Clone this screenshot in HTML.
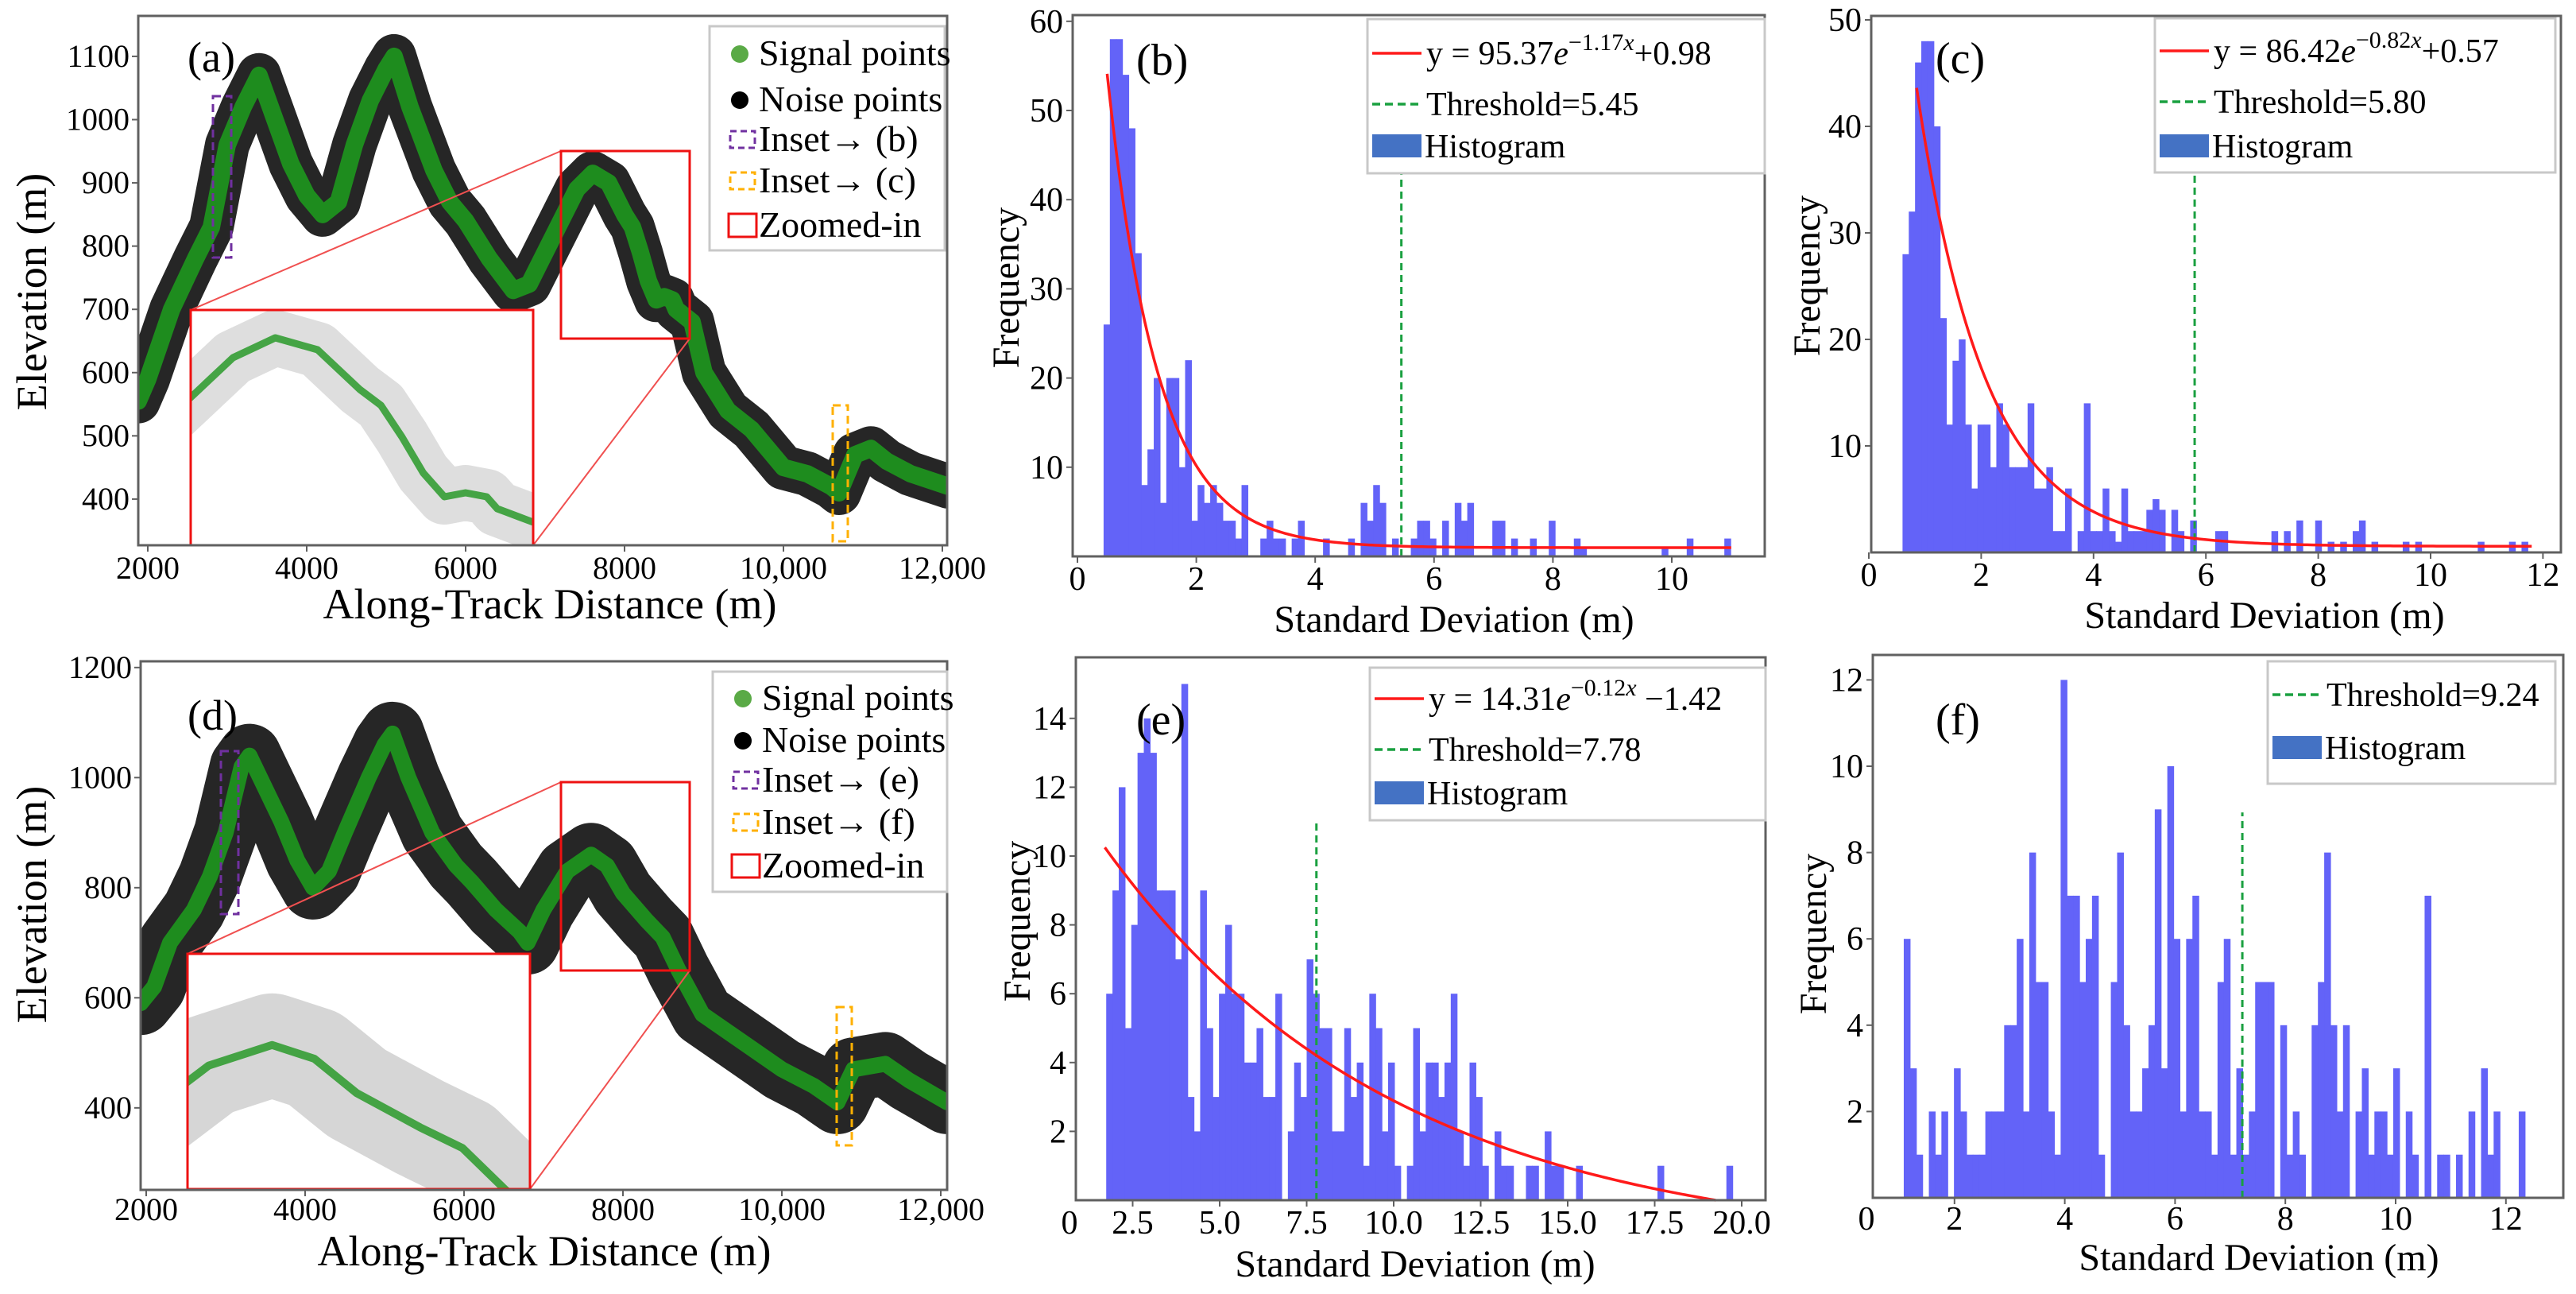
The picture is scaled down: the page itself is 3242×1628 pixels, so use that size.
<!DOCTYPE html>
<html><head><meta charset="utf-8"><style>
html,body{margin:0;padding:0;background:#fff;}
svg{display:block;font-family:"Liberation Serif",serif;}
</style></head><body>
<svg id="fig" xmlns="http://www.w3.org/2000/svg" width="3242" height="1628" viewBox="0 0 3242 1628">
<rect x="0" y="0" width="3242" height="1628" fill="#fff"/>
<defs>
<clipPath id="clipA"><rect x="174" y="20" width="1018" height="666"/></clipPath>
<clipPath id="clipAi"><rect x="240" y="390" width="431" height="296"/></clipPath>
<clipPath id="clipD"><rect x="177" y="832" width="1015" height="665"/></clipPath>
<clipPath id="clipDi"><rect x="236" y="1200" width="431" height="296"/></clipPath>
</defs>
<g id="layer"></g>
</svg>
<script>
// ---------- DATA ----------
const aDist=[1880,2000,2300,2600,2800,3000,3200,3400,3600,3800,4000,4200,4400,4600,4800,5000,5100,5300,5600,5800,6000,6300,6600,6800,7000,7200,7400,7600,7800,8000,8100,8200,8300,8400,8500,8600,8650,8750,8850,9000,9300,9600,9800,10000,10300,10600,10700,10900,11100,11300,11600,12080];
const aElev=[555,590,700,780,830,960,1020,1070,1000,930,880,850,870,960,1030,1080,1100,1020,920,870,840,780,730,740,790,840,890,915,900,850,830,790,745,715,720,715,700,690,680,600,540,510,480,450,440,420,410,470,480,460,440,420];
const dDist=[1930,2100,2300,2600,2800,3000,3200,3300,3500,3700,3900,4100,4300,4500,4800,5000,5100,5300,5600,5900,6100,6400,6700,6800,7000,7300,7600,7800,8000,8300,8500,8700,9000,9300,9600,10000,10400,10700,10900,11300,11600,12080];
const dElev=[590,620,700,760,820,900,1020,1040,980,920,850,800,830,900,1000,1060,1080,1000,900,840,810,760,720,700,760,830,860,840,790,740,710,650,570,540,510,470,440,410,470,480,450,410];
const aYTicks=[400,500,600,700,800,900,1000,1100];
const dYTicks=[400,600,800,1000,1200];
const profXTicks=[2000,4000,6000,8000,10000,12000];
const profXLabels=["2000","4000","6000","8000","10,000","12,000"];

const bCounts=[26,58,58,54,48,34,8,12,20,6,20,20,10,22,4,8,6,8,6,4,4,2,8,0,0,2,4,2,2,0,2,4,0,0,0,2,0,0,0,2,0,6,4,8,6,0,2,0,0,2,4,4,2,0,4,0,6,4,6,0,0,0,4,4,0,2,0,0,2,0,0,4,0,0,0,2,1,0,0,0,0,0,0,0,0,0,0,0,0,1,0,0,0,2,0,0,0,0,0,2];
const bStart=0.44, bWidth=0.1055;
const cCounts=[28,32,46,48,48,40,22,12,18,20,12,6,12,12,8,14,12,8,8,8,14,6,6,8,2,2,6,0,2,14,2,2,6,2,1,6,2,2,2,4,5,4,0,4,2,0,3,0,0,0,2,2,0,0,0,0,0,0,0,2,0,2,0,3,0,0,3,0,1,0,1,0,2,3,0,1,0,0,0,0,1,0,1,0,0,0,0,0,0,0,0,0,1,0,0,0,0,1,0,1];
const cStart=0.60, cWidth=0.1113;
const eCounts=[6,9,12,5,8,13,14,13,9,9,9,7,15,3,2,9,5,3,6,8,6,6,4,4,5,3,3,6,0,2,4,3,7,6,5,5,2,2,5,3,4,1,6,5,2,4,1,0,1,5,2,4,4,3,4,6,2,1,4,3,1,0,2,1,1,0,0,1,1,0,2,1,1,0,0,1,0,0,0,0,0,0,0,0,0,0,0,0,1,0,0,0,0,0,0,0,0,0,0,1];
const eStart=1.74, eWidth=0.18;
const fCounts=[6,3,1,0,2,1,2,0,3,2,1,1,1,2,2,2,4,4,6,2,8,5,5,2,1,12,7,7,5,6,7,1,0,5,8,4,2,2,3,4,9,3,10,6,2,6,7,2,2,1,5,6,1,3,1,2,5,5,5,0,4,1,2,1,0,4,5,8,4,2,4,0,2,3,1,2,2,1,3,0,2,1,0,7,0,1,1,0,1,0,2,0,3,1,2,0,0,0,2];
const fStart=1.08, fWidth=0.1138;
const bYTicks=[10,20,30,40,50,60], bXTicks=[0,2,4,6,8,10];
const cYTicks=[10,20,30,40,50], cXTicks=[0,2,4,6,8,10,12];
const eYTicks=[2,4,6,8,10,12,14], eXTicks=[2.5,5.0,7.5,10.0,12.5,15.0,17.5,20.0];
const fYTicks=[2,4,6,8,10,12], fXTicks=[2,4,6,8,10,12];
const bFit=[95.37,-1.17,0.98], cFit=[86.42,-0.82,0.57], eFit=[14.31,-0.12,-1.42];
const bThresh=5.45, cThresh=5.80, eThresh=7.78, fThresh=7.22;

// ---------- HELPERS ----------
const NS='http://www.w3.org/2000/svg';
const layer=document.getElementById('layer');
function mk(tag,attrs,parent){const e=document.createElementNS(NS,tag);for(const k in attrs)e.setAttribute(k,attrs[k]);(parent||layer).appendChild(e);return e;}
function txt(s,attrs,parent){const t=mk('text',attrs,parent);t.textContent=s;return t;}

// ---------- PROFILE PANELS ----------
function profilePanel(P){
  const g=mk('g',{});
  
  
  const sx=d=>P.L+(d-P.x0)*P.kx, sy=v=>P.B-(v-P.y0)*P.ky;
  const pts=P.dist.map((d,i)=>sx(d)+','+sy(P.elev[i])).join(' ');
  const cg=mk('g',{'clip-path':'url(#'+P.clip+')'},g);
  const band=mk('polyline',{points:pts,fill:'none',stroke:'#262626','stroke-width':P.band,'stroke-linejoin':'round','stroke-linecap':'round'},cg);
  
  
  const sig=mk('polyline',{points:pts,fill:'none',stroke:'#1e8c1e','stroke-width':P.sig,'stroke-linejoin':'round','stroke-linecap':'round'},cg);
  
  
  const zb=P.zoom;
  const l1=mk('line',{x1:P.inset.x,y1:P.inset.y,x2:zb.x,y2:zb.y,stroke:'#f05050','stroke-width':2},g);
  
  
  const l2=mk('line',{x1:P.inset.x+P.inset.w,y1:P.inset.y+P.inset.h,x2:zb.x+zb.w,y2:zb.y+zb.h,stroke:'#f05050','stroke-width':2},g);
  
  
  const ib=mk('rect',{x:P.inset.x,y:P.inset.y,width:P.inset.w,height:P.inset.h,fill:'#fff'},g);
  
  
  const ix=d=>P.inset.x+(d-zb.d0)/(zb.d1-zb.d0)*P.inset.w;
  const iy=v=>P.inset.y+(zb.e1-v)/(zb.e1-zb.e0)*P.inset.h;
  const ipts=P.dist.map((d,i)=>ix(d)+','+iy(P.elev[i])).join(' ');
  const ig=mk('g',{'clip-path':'url(#'+P.iclip+')'},g);
  const inoise=mk('polyline',{points:ipts,fill:'none',stroke:'#000','stroke-opacity':P.iop,'stroke-width':P.iband,'stroke-linejoin':'round','stroke-linecap':'round'},ig);
  
  
  const isig=mk('polyline',{points:ipts,fill:'none',stroke:'#2a9a2a','stroke-width':P.isig,'stroke-linejoin':'round','stroke-opacity':0.85},ig);
  
  
  const ir=mk('rect',{x:P.inset.x,y:P.inset.y,width:P.inset.w,height:P.inset.h,fill:'none',stroke:'#ee1111','stroke-width':3},g);
  
  
  const zr=mk('rect',{x:zb.x,y:zb.y,width:zb.w,height:zb.h,fill:'none',stroke:'#ee1111','stroke-width':3},g);
  
  
  const pb=mk('rect',{x:P.purple.x,y:P.purple.y,width:P.purple.w,height:P.purple.h,fill:'none',stroke:'#7030a0','stroke-width':3,'stroke-dasharray':'10 6'},g);
  
  
  const ob=mk('rect',{x:P.orange.x,y:P.orange.y,width:P.orange.w,height:P.orange.h,fill:'none',stroke:'#ffb000','stroke-width':3,'stroke-dasharray':'10 6'},g);
  
  
  const fr=mk('rect',{x:P.L,y:P.T,width:P.R-P.L,height:P.B-P.T,fill:'none',stroke:'#606060','stroke-width':3},g);
  
  
  P.yTicks.forEach(v=>{
    const tk=mk('line',{x1:P.L-8,x2:P.L,y1:sy(v),y2:sy(v),stroke:'#606060','stroke-width':2},g);
    
    
    const tl=txt(String(v),{x:P.L-11,y:sy(v)+13,'text-anchor':'end','font-size':40},g);
    
    
  });
  P.xTicks.forEach((v,i)=>{
    const tk=mk('line',{x1:sx(v),x2:sx(v),y1:P.B,y2:P.B+8,stroke:'#606060','stroke-width':2},g);
    
    
    const tl=txt(P.xLabels[i],{x:sx(v),y:P.xLabY,'text-anchor':'middle','font-size':40},g);
    
    
  });
  const yt=txt('Elevation (m)',{x:0,y:0,'text-anchor':'middle','font-size':54,transform:'translate('+(P.yTitleX)+','+P.yTitleY+') rotate(-90)'},g);
  
  
  const xt=txt('Along-Track Distance (m)',{x:P.xTitleX,y:P.xTitleY,'text-anchor':'middle','font-size':54},g);
  
  
  const pl=txt(P.label,{x:236,y:P.labelY,'font-size':54},g);
  
  
  const LG=P.leg;
  const lb=mk('rect',{x:LG.x,y:LG.y,width:LG.w,height:LG.h,fill:'#fff',stroke:'#c8c8c8','stroke-width':3},g);
  
  
  const ent=[['Signal points','dot','#5aaa46'],['Noise points','dot','#000'],['Inset\u2192 ('+P.ins[0]+')','dash','#7030a0'],['Inset\u2192 ('+P.ins[1]+')','dash','#ffb000'],['Zoomed-in','box','#ee1111']];
  ent.forEach((e,i)=>{
    const cy=LG.rows[i];
    let m;
    if(e[1]==='dot'){m=mk('circle',{cx:LG.x+38,cy:cy,r:11,fill:e[2]},g);}
    else if(e[1]==='dash'){m=mk('rect',{x:LG.x+26,y:cy-11,width:31,height:21,fill:'none',stroke:e[2],'stroke-width':3,'stroke-dasharray':'8 5'},g);}
    else {m=mk('rect',{x:LG.x+24,y:cy-15,width:35,height:29,fill:'none',stroke:e[2],'stroke-width':3},g);}
    
    
    const t=txt(e[0],{x:LG.x+62,y:cy+14,'font-size':46},g);
    
    
  });
}

profilePanel({name:'panel-a',dist:aDist,elev:aElev,L:174,T:20,R:1192,B:686,x0:1880,kx:0.1,y0:327,ky:0.7957,clip:'clipA',iclip:'clipAi',band:56,sig:22,iband:70,iop:0.13,isig:9,
  zoom:{x:706,y:190,w:162,h:236,d0:7200,d1:8820,e0:654,e1:950},inset:{x:240,y:390,w:431,h:296},
  purple:{x:268,y:121,w:23,h:203},orange:{x:1048,y:510,w:19,h:171},
  yTicks:aYTicks,xTicks:profXTicks,xLabels:profXLabels,xLabY:728,yTitleX:58,yTitleY:367,xTitleX:692,xTitleY:778,label:'(a)',labelY:90,ins:['b','c'],
  leg:{x:893,y:33,w:296,h:282,rows:[68,126,176,228,284]}});
profilePanel({name:'panel-d',dist:dDist,elev:dElev,L:177,T:832,R:1192,B:1497,x0:1930,kx:0.1,y0:251,ky:0.6925,clip:'clipD',iclip:'clipDi',band:80,sig:20,iband:130,iop:0.16,isig:10,
  zoom:{x:706,y:984,w:162,h:237,d0:7200,d1:8820,e0:650,e1:993},inset:{x:236,y:1200,w:431,h:296},
  purple:{x:278,y:945,w:22,h:205},orange:{x:1053,y:1267,w:19,h:174},
  yTicks:dYTicks,xTicks:profXTicks,xLabels:profXLabels,xLabY:1535,yTitleX:58,yTitleY:1138,xTitleX:685,xTitleY:1592,label:'(d)',labelY:918,ins:['e','f'],
  leg:{x:897,y:845,w:295,h:277,rows:[879,932,982,1035,1090]}});

// ---------- HISTOGRAM PANELS ----------
function histPanel(H){
  const g=mk('g',{});
  
  
  const sx=u=>H.X0+u*H.kx, sy=v=>H.B-v*H.ky;
  H.counts.forEach((c,i)=>{
    if(c<=0)return;
    const x0=sx(H.start+i*H.width), x1=sx(H.start+(i+1)*H.width);
    const r=mk('rect',{x:x0,y:sy(c),width:x1-x0+0.6,height:H.B-sy(c),fill:'#6363f8'},g);
    
    
  });
  const th=mk('line',{x1:sx(H.thresh),x2:sx(H.thresh),y1:H.B,y2:sy(H.threshTop),stroke:'#1aa040','stroke-width':3,'stroke-dasharray':'9 6'},g);
  
  
  if(H.fit){
    const pts=[];
    for(let k=0;k<=200;k++){const u=H.fitFrom+(H.fitTo-H.fitFrom)*k/200;const v=H.fit[0]*Math.exp(H.fit[1]*u)+H.fit[2];pts.push(sx(u)+','+sy(v));}
    const fl=mk('polyline',{points:pts.join(' '),fill:'none',stroke:'#ff1a1a','stroke-width':3.5},g);
    
    
  }
  const fr=mk('rect',{x:H.L,y:H.T,width:H.R-H.L,height:H.B-H.T,fill:'none',stroke:'#606060','stroke-width':3},g);
  
  
  H.yTicks.forEach(v=>{
    const tk=mk('line',{x1:H.L-8,x2:H.L,y1:sy(v),y2:sy(v),stroke:'#606060','stroke-width':2},g);
    
    
    const tl=txt(String(v),{x:H.L-12,y:sy(v)+14,'text-anchor':'end','font-size':42},g);
    
    
  });
  H.xTicks.forEach(v=>{
    const tk=mk('line',{x1:sx(v),x2:sx(v),y1:H.B,y2:H.B+8,stroke:'#606060','stroke-width':2},g);
    
    
    const tl=txt(H.dec?v.toFixed(1):String(v),{x:sx(v),y:H.xLabY,'text-anchor':'middle','font-size':42},g);
    
    
  });
  if(H.zeroLabel){
    const z=txt('0',{x:H.L-8,y:H.xLabY,'text-anchor':'middle','font-size':42},g);
    
    
  }
  const yt=txt('Frequency',{x:0,y:0,'text-anchor':'middle','font-size':48,transform:'translate('+H.yTitleX+','+H.yTitleY+') rotate(-90)'},g);
  
  
  const xt=txt('Standard Deviation (m)',{x:H.xTitleX,y:H.xTitleY,'text-anchor':'middle','font-size':48},g);
  
  
  const pl=txt(H.label,{x:H.labelX,y:H.labelY,'font-size':56},g);
  
  
  const LG=H.leg;
  const lb=mk('rect',{x:LG.x,y:LG.y,width:LG.w,height:LG.h,fill:'#fff',stroke:'#c8c8c8','stroke-width':3},g);
  
  
  let row=0;
  if(H.fit){
    const cy=LG.rows[row++];
    const ln=mk('line',{x1:LG.x+6,x2:LG.x+68,y1:cy,y2:cy,stroke:'#ff1a1a','stroke-width':3.5},g);
    
    
    const t=mk('text',{x:LG.x+74,y:cy+14,'font-size':42},g);
    
    
    const a=document.createElementNS(NS,'tspan');a.textContent='y = '+H.fit[0].toFixed(2);t.appendChild(a);
    const e=document.createElementNS(NS,'tspan');e.setAttribute('font-style','italic');e.textContent='e';t.appendChild(e);
    const s=document.createElementNS(NS,'tspan');s.setAttribute('font-size','30');s.setAttribute('dy','-18');s.textContent='\u2212'+Math.abs(H.fit[1]).toFixed(2);t.appendChild(s);
    const sxx=document.createElementNS(NS,'tspan');sxx.setAttribute('font-size','30');sxx.setAttribute('font-style','italic');sxx.textContent='x';t.appendChild(sxx);
    const c=document.createElementNS(NS,'tspan');c.setAttribute('dy','18');c.textContent=(H.fit[2]<0?' \u2212'+Math.abs(H.fit[2]).toFixed(2):'+'+H.fit[2].toFixed(2));t.appendChild(c);
  }
  {
    const cy=LG.rows[row++];
    const ln=mk('line',{x1:LG.x+6,x2:LG.x+68,y1:cy,y2:cy,stroke:'#1aa040','stroke-width':3.5,'stroke-dasharray':'10 6'},g);
    
    
    const t=txt('Threshold='+H.threshText,{x:LG.x+74,y:cy+14,'font-size':42},g);
    
    
  }
  {
    const cy=LG.rows[row++];
    const hr=mk('rect',{x:LG.x+6,y:cy-15,width:62,height:29,fill:'#4472c4'},g);
    
    
    const t=txt('Histogram',{x:LG.x+72,y:cy+14,'font-size':42},g);
    
    
  }
}

histPanel({name:'panel-b',counts:bCounts,start:bStart,width:bWidth,L:1350,T:19,R:2221,B:700,X0:1356,kx:74.8,ky:11.22,
  thresh:bThresh,threshTop:43,threshText:'5.45',fit:bFit,fitFrom:0.5,fitTo:11.0,yTicks:bYTicks,xTicks:bXTicks,xLabY:742,
  yTitleX:1282,yTitleY:362,xTitleX:1830,xTitleY:795,label:'(b)',labelX:1430,labelY:94,
  leg:{x:1721,y:24,w:500,h:194,rows:[67,131,184]}});
histPanel({name:'panel-c',counts:cCounts,start:cStart,width:cWidth,L:2355,T:20,R:3223,B:695,X0:2352,kx:70.7,ky:13.4,
  thresh:cThresh,threshTop:36,threshText:'5.80',fit:cFit,fitFrom:0.85,fitTo:11.8,yTicks:cYTicks,xTicks:cXTicks,xLabY:737,
  yTitleX:2290,yTitleY:347,xTitleX:2850,xTitleY:790,label:'(c)',labelX:2436,labelY:92,
  leg:{x:2712,y:23,w:504,h:194,rows:[64,128,184]}});
histPanel({name:'panel-e',counts:eCounts,start:eStart,width:eWidth,L:1354,T:827,R:2222,B:1510,X0:1316,kx:43.8,ky:43.3,
  thresh:eThresh,threshTop:11,threshText:'7.78',fit:eFit,fitFrom:1.7,fitTo:19.25,yTicks:eYTicks,xTicks:eXTicks,dec:true,zeroLabel:true,xLabY:1552,
  yTitleX:1296,yTitleY:1159,xTitleX:1781,xTitleY:1606,label:'(e)',labelX:1430,labelY:924,
  leg:{x:1724,y:840,w:498,h:192,rows:[879,943,998]}});
histPanel({name:'panel-f',counts:fCounts,start:fStart,width:fWidth,L:2357,T:824,R:3226,B:1507,X0:2321,kx:69.4,ky:54.3,
  thresh:fThresh,threshTop:8.93,threshText:'9.24',fit:null,yTicks:fYTicks,xTicks:fXTicks,zeroLabel:true,xLabY:1547,
  yTitleX:2298,yTitleY:1175,xTitleX:2843,xTitleY:1598,label:'(f)',labelX:2436,labelY:924,
  leg:{x:2854,y:832,w:362,h:154,rows:[874,941]}});
</script>
</body></html>
